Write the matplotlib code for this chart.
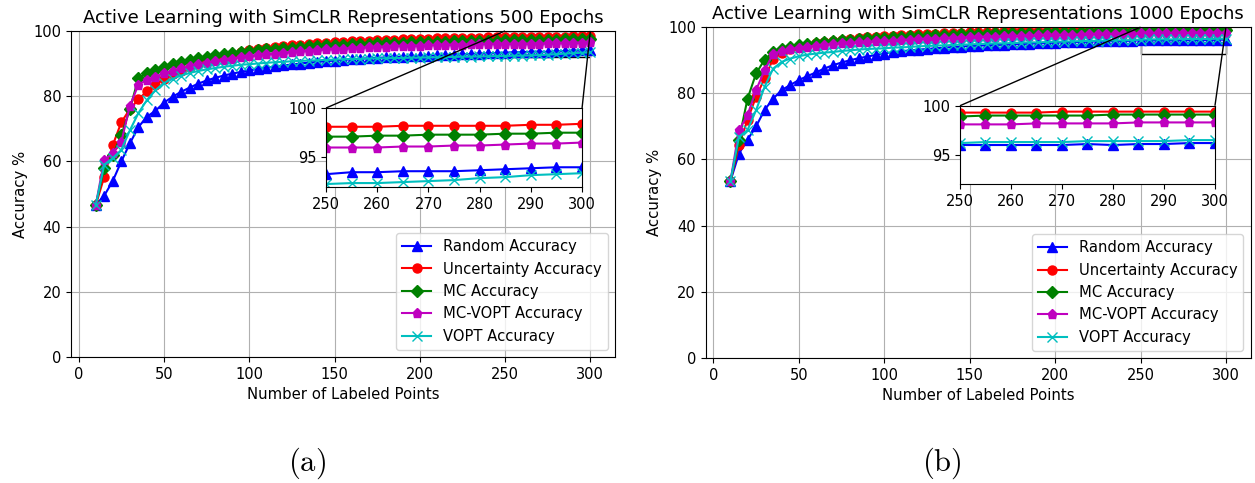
from matplotlib import pyplot as plt
from mpl_toolkits.axes_grid1.inset_locator import mark_inset

plt.rcParams['mathtext.fontset'] = 'cm'

# number of labeled points (query rounds of 5)
labeled_points = list(range(10, 301, 5))

# 500 epochs
random_500 = [46.6, 49.5, 54.0, 60.0, 65.5, 70.5, 73.7, 75.5, 78.0, 79.8,
              81.3, 82.6, 83.8, 84.8, 85.6, 86.3, 86.9, 87.4, 87.9, 88.3,
              88.7, 89.1, 89.4, 89.7, 90.0, 90.3, 90.5, 90.7, 90.9, 91.1,
              91.3, 91.5, 91.6, 91.7, 91.9, 92.0, 92.1, 92.2, 92.3, 92.4,
              92.5, 92.6, 92.7, 92.8, 92.9, 93.0, 93.1, 93.2, 93.3, 93.5,
              93.5, 93.6, 93.6, 93.6, 93.7, 93.8, 93.9, 94.0, 94.0]
uncert_500 = [46.6, 55.3, 65.0, 72.0, 76.0, 79.0, 81.5, 83.5, 85.3, 86.7,
              87.8, 88.8, 89.7, 90.5, 91.3, 92.1, 92.8, 93.4, 94.0, 94.4,
              94.8, 95.1, 95.4, 95.6, 95.8, 96.0, 96.2, 96.4, 96.5, 96.6,
              96.8, 96.9, 97.0, 97.1, 97.2, 97.3, 97.4, 97.5, 97.5, 97.6,
              97.7, 97.7, 97.8, 97.8, 97.9, 97.9, 98.0, 98.0, 98.1, 98.1,
              98.1, 98.2, 98.2, 98.2, 98.2, 98.2, 98.3, 98.3, 98.4]
mc_500 = [46.6, 58.0, 62.0, 68.0, 76.0, 85.5, 87.0, 88.0, 89.0, 89.8,
          90.5, 91.1, 91.6, 92.1, 92.5, 92.9, 93.2, 93.5, 93.8, 94.1,
          94.3, 94.5, 94.7, 94.9, 95.1, 95.3, 95.4, 95.6, 95.7, 95.8,
          95.9, 96.0, 96.1, 96.2, 96.3, 96.4, 96.4, 96.5, 96.6, 96.6,
          96.7, 96.7, 96.8, 96.8, 96.9, 96.9, 97.0, 97.0, 97.1, 97.1,
          97.2, 97.2, 97.3, 97.3, 97.3, 97.4, 97.4, 97.5, 97.5]
mc_vopt_500 = [46.6, 60.5, 62.5, 66.0, 77.0, 83.5, 85.0, 86.0, 87.0, 87.8,
               88.5, 89.1, 89.7, 90.2, 90.7, 91.1, 91.5, 91.9, 92.2, 92.5,
               92.8, 93.0, 93.3, 93.5, 93.7, 93.9, 94.1, 94.3, 94.4, 94.6,
               94.7, 94.8, 95.0, 95.1, 95.2, 95.3, 95.4, 95.5, 95.5, 95.6,
               95.7, 95.7, 95.8, 95.8, 95.9, 95.9, 96.0, 96.0, 96.0, 96.0,
               96.0, 96.1, 96.1, 96.2, 96.2, 96.3, 96.4, 96.4, 96.5]
vopt_500 = [46.6, 59.0, 61.0, 63.5, 69.5, 74.8, 78.8, 81.8, 84.0, 85.3,
            86.3, 87.1, 87.7, 88.2, 88.6, 89.0, 89.3, 89.6, 89.8, 90.0,
            90.2, 90.4, 90.5, 90.7, 90.8, 90.9, 91.0, 91.1, 91.2, 91.3,
            91.4, 91.4, 91.5, 91.6, 91.6, 91.7, 91.7, 91.8, 91.8, 91.9,
            91.9, 92.0, 92.0, 92.1, 92.1, 92.2, 92.2, 92.3, 92.3, 92.4,
            92.4, 92.5, 92.6, 92.7, 92.9, 93.0, 93.2, 93.3, 93.4]

# 1000 epochs
random_1000 = [53.5, 61.8, 66.0, 70.0, 75.0, 78.4, 81.0, 82.5, 84.0, 85.2,
               86.3, 87.5, 88.5, 89.3, 90.0, 90.6, 91.1, 91.6, 92.0, 92.4,
               92.7, 93.0, 93.2, 93.4, 93.6, 93.8, 94.0, 94.1, 94.3, 94.4,
               94.5, 94.6, 94.7, 94.8, 94.9, 95.0, 95.1, 95.2, 95.3, 95.4,
               95.5, 95.5, 95.6, 95.7, 95.7, 95.8, 95.8, 95.9, 96.0, 96.0,
               96.0, 96.0, 96.0, 96.1, 96.0, 96.1, 96.1, 96.2, 96.2]
uncert_1000 = [53.5, 64.4, 72.0, 79.0, 84.5, 90.5, 92.3, 93.3, 94.1, 94.7,
               95.2, 95.6, 95.9, 96.2, 96.5, 96.7, 96.9, 97.0, 97.2, 97.4,
               97.5, 97.7, 97.8, 97.9, 98.0, 98.1, 98.2, 98.3, 98.4, 98.5,
               98.5, 98.6, 98.7, 98.7, 98.8, 98.8, 98.9, 98.9, 99.0, 99.0,
               99.0, 99.1, 99.1, 99.1, 99.2, 99.2, 99.2, 99.2, 99.3, 99.3,
               99.3, 99.3, 99.4, 99.4, 99.4, 99.4, 99.4, 99.4, 99.4]
mc_1000 = [53.5, 66.0, 78.4, 86.0, 90.2, 92.5, 93.5, 94.0, 94.5, 94.9,
           95.3, 95.6, 95.8, 96.0, 96.2, 96.4, 96.6, 96.7, 96.8, 97.0,
           97.1, 97.2, 97.3, 97.4, 97.5, 97.6, 97.7, 97.8, 97.9, 97.9,
           98.0, 98.1, 98.1, 98.2, 98.2, 98.3, 98.3, 98.4, 98.5, 98.5,
           98.6, 98.6, 98.7, 98.7, 98.8, 98.8, 98.8, 98.9, 98.9, 99.0,
           99.0, 99.0, 99.0, 99.0, 99.1, 99.1, 99.1, 99.1, 99.1]
mc_vopt_1000 = [53.5, 68.9, 73.4, 81.0, 87.0, 92.0, 92.8, 93.3, 93.8, 94.1,
                94.4, 94.7, 94.9, 95.1, 95.2, 95.4, 95.5, 95.7, 95.8, 95.9,
                96.1, 96.2, 96.3, 96.4, 96.5, 96.6, 96.7, 96.8, 96.9, 97.0,
                97.1, 97.1, 97.2, 97.3, 97.3, 97.4, 97.5, 97.5, 97.6, 97.6,
                97.7, 97.7, 97.8, 97.8, 97.9, 97.9, 98.0, 98.0, 98.1, 98.1,
                98.1, 98.2, 98.2, 98.2, 98.2, 98.3, 98.3, 98.3, 98.3]
vopt_1000 = [53.5, 66.9, 68.9, 74.9, 82.0, 87.5, 89.5, 90.5, 91.2, 91.7,
             92.0, 92.3, 92.5, 92.8, 93.0, 93.2, 93.4, 93.5, 93.6, 93.8,
             93.9, 94.0, 94.2, 94.3, 94.4, 94.5, 94.6, 94.7, 94.8, 94.9,
             95.0, 95.1, 95.1, 95.2, 95.3, 95.4, 95.4, 95.5, 95.6, 95.6,
             95.7, 95.8, 95.8, 95.9, 95.9, 96.0, 96.0, 96.1, 96.2, 96.3,
             96.3, 96.3, 96.3, 96.4, 96.4, 96.4, 96.4, 96.5, 96.5]

labels = ['Random Accuracy', 'Uncertainty Accuracy', 'MC Accuracy',
          'MC-VOPT Accuracy', 'VOPT Accuracy']
fmts = ['b-^', 'r-o', 'g-D', 'm-p', 'c-x']


def draw_panel(ax, axins, series, title):
    for ys, fmt, label in zip(series, fmts, labels):
        ax.plot(labeled_points, ys, fmt, label=label, markersize=6.5)
        axins.plot(labeled_points, ys, fmt, markersize=6.5)

    ax.set_ylim(0, 100)
    ax.set_title(title, fontsize=13)
    ax.set_xlabel('Number of Labeled Points', fontsize=10.7)
    ax.set_ylabel('Accuracy %', fontsize=10.7)
    ax.tick_params(labelsize=10.5)
    ax.grid(True)
    ax.legend(loc='lower right', fontsize=10.6)

    # zoomed view of the last 50 points
    axins.set_xlim(250, 300)
    axins.set_ylim(92, 100)
    axins.set_xticks([250, 260, 270, 280, 290, 300])
    axins.set_yticks([95, 100])
    axins.tick_params(labelsize=10.5)
    mark_inset(ax, axins, loc1=2, loc2=1, fc='none', ec='0.0')


fig = plt.figure(figsize=(12.55, 4.83), dpi=100)

ax1 = fig.add_axes([0.0566, 0.261, 0.4335, 0.675])
ins1 = fig.add_axes([0.2598, 0.6128, 0.204, 0.1636])
draw_panel(ax1, ins1, [random_500, uncert_500, mc_500, mc_vopt_500, vopt_500],
           'Active Learning with SimCLR Representations 500 Epochs')

ax2 = fig.add_axes([0.5623, 0.2588, 0.4343, 0.685])
ins2 = fig.add_axes([0.7649, 0.6184, 0.2032, 0.1627])
draw_panel(ax2, ins2, [random_1000, uncert_1000, mc_1000, mc_vopt_1000, vopt_1000],
           'Active Learning with SimCLR Representations 1000 Epochs')

fig.text(0.2446, 0.041, r'$\mathrm{(a)}$', ha='center', va='center', fontsize=22)
fig.text(0.7506, 0.041, r'$\mathrm{(b)}$', ha='center', va='center', fontsize=22)

plt.savefig('out.png', dpi=100)
